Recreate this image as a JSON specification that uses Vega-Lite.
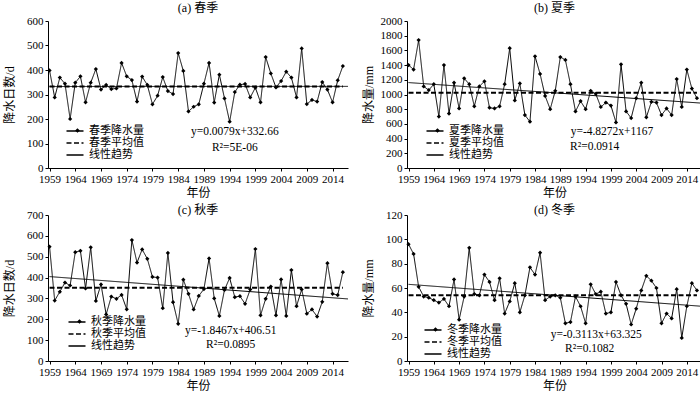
{
  "$schema": "https://vega.github.io/schema/vega-lite/v6.json",
  "padding": {"left": 3, "top": 2, "right": 2, "bottom": 0},
  "columns": 2,
  "spacing": {"row": 6, "column": 12},
  "resolve": {"scale": {"strokeDash": "independent", "shape": "independent"}, "legend": {"strokeDash": "independent", "shape": "independent"}},
  "config": {
    "font": "Liberation Serif, Noto Sans CJK SC",
    "view": {"stroke": null},
    "axis": {"domainColor": "black", "tickColor": "black", "labelColor": "black", "titleColor": "black", "grid": false,
      "labelFont": "Liberation Serif", "labelFontSize": 11, "titleFont": "Liberation Serif, Noto Sans CJK SC",
      "titleFontSize": 12, "titleFontWeight": "normal", "tickSize": 3, "labelPadding": 2, "domainWidth": 1, "tickWidth": 1},
    "axisX": {"labelFlush": false, "labelOverlap": false, "titlePadding": 3, "format": "d"},
    "axisY": {"minExtent": 26, "maxExtent": 26, "titlePadding": 6, "format": "d", "labelOverlap": false},
    "title": {"font": "Liberation Serif, Noto Sans CJK SC", "fontSize": 12, "fontWeight": "normal", "color": "black", "anchor": "middle"},
    "legend": {"labelFont": "Liberation Serif, Noto Sans CJK SC", "labelFontSize": 11, "labelColor": "black", "padding": 0, "rowPadding": 1, "symbolSize": 100, "labelOffset": 8, "symbolType": "M-1.7,0H1.7", "symbolStrokeWidth": 1.3, "symbolStrokeColor": "black"},
    "text": {"font": "Liberation Serif", "fontSize": 11.5, "color": "black"}
  },
  "concat": [
    {
      "title": {"text": "(a) 春季", "offset": 0},
      "width": 300, "height": 147,
      "data": {"values": [
        {"year":1959,"value":398,"series":"春季降水量"},{"year":1960,"value":288,"series":"春季降水量"},{"year":1961,"value":369,"series":"春季降水量"},{"year":1962,"value":344,"series":"春季降水量"},{"year":1963,"value":200,"series":"春季降水量"},{"year":1964,"value":348,"series":"春季降水量"},{"year":1965,"value":374,"series":"春季降水量"},{"year":1966,"value":268,"series":"春季降水量"},{"year":1967,"value":348,"series":"春季降水量"},{"year":1968,"value":404,"series":"春季降水量"},
        {"year":1969,"value":320,"series":"春季降水量"},{"year":1970,"value":339,"series":"春季降水量"},{"year":1971,"value":322,"series":"春季降水量"},{"year":1972,"value":325,"series":"春季降水量"},{"year":1973,"value":429,"series":"春季降水量"},{"year":1974,"value":374,"series":"春季降水量"},{"year":1975,"value":359,"series":"春季降水量"},{"year":1976,"value":271,"series":"春季降水量"},{"year":1977,"value":373,"series":"春季降水量"},{"year":1978,"value":339,"series":"春季降水量"},
        {"year":1979,"value":260,"series":"春季降水量"},{"year":1980,"value":295,"series":"春季降水量"},{"year":1981,"value":371,"series":"春季降水量"},{"year":1982,"value":314,"series":"春季降水量"},{"year":1983,"value":302,"series":"春季降水量"},{"year":1984,"value":469,"series":"春季降水量"},{"year":1985,"value":396,"series":"春季降水量"},{"year":1986,"value":231,"series":"春季降水量"},{"year":1987,"value":250,"series":"春季降水量"},{"year":1988,"value":260,"series":"春季降水量"},
        {"year":1989,"value":344,"series":"春季降水量"},{"year":1990,"value":429,"series":"春季降水量"},{"year":1991,"value":267,"series":"春季降水量"},{"year":1992,"value":381,"series":"春季降水量"},{"year":1993,"value":284,"series":"春季降水量"},{"year":1994,"value":189,"series":"春季降水量"},{"year":1995,"value":310,"series":"春季降水量"},{"year":1996,"value":340,"series":"春季降水量"},{"year":1997,"value":343,"series":"春季降水量"},{"year":1998,"value":288,"series":"春季降水量"},
        {"year":1999,"value":328,"series":"春季降水量"},{"year":2000,"value":268,"series":"春季降水量"},{"year":2001,"value":453,"series":"春季降水量"},{"year":2002,"value":386,"series":"春季降水量"},{"year":2003,"value":329,"series":"春季降水量"},{"year":2004,"value":355,"series":"春季降水量"},{"year":2005,"value":393,"series":"春季降水量"},{"year":2006,"value":369,"series":"春季降水量"},{"year":2007,"value":288,"series":"春季降水量"},{"year":2008,"value":488,"series":"春季降水量"},
        {"year":2009,"value":261,"series":"春季降水量"},{"year":2010,"value":278,"series":"春季降水量"},{"year":2011,"value":271,"series":"春季降水量"},{"year":2012,"value":351,"series":"春季降水量"},{"year":2013,"value":320,"series":"春季降水量"},{"year":2014,"value":268,"series":"春季降水量"},{"year":2015,"value":358,"series":"春季降水量"},{"year":2016,"value":416,"series":"春季降水量"},
        {"year":1959,"value":332.7,"series":"春季平均值"},{"year":2016,"value":332.7,"series":"春季平均值"},
        {"year":1959,"value":332.67,"series":"线性趋势"},{"year":2017,"value":333.13,"series":"线性趋势"}
      ]},
      "layer": [
        {"mark": {"type": "line", "color": "black"},
         "encoding": {
          "x": {"field": "year", "type": "quantitative", "scale": {"domain": [1958.7, 2017], "nice": false, "zero": false},
            "axis": {"title": "年份", "values": [1959,1964,1969,1974,1979,1984,1989,1994,1999,2004,2009,2014]}},
          "y": {"field": "value", "type": "quantitative", "scale": {"domain": [0, 600], "nice": false},
            "axis": {"title": "降水日数/d", "values": [0,100,200,300,400,500,600]}},
          "strokeDash": {"field": "series", "type": "nominal", "scale": {"domain": ["春季降水量","春季平均值","线性趋势"], "range": [[1,0],[5,2.5],[1,0]]},
            "legend": {"title": null, "orient": "none", "legendX": 21, "legendY": 104}},
          "strokeWidth": {"condition": {"test": "datum.series === '春季平均值'", "value": 2}, "value": 1}
         }},
        {"transform": [{"filter": {"field": "series", "equal": "春季降水量"}}],
         "mark": {"type": "point", "filled": true, "size": 18, "fill": "black", "strokeWidth": 0, "opacity": 1},
         "encoding": {
           "x": {"field": "year", "type": "quantitative", "scale": {"domain": [1958.7, 2017], "nice": false, "zero": false},
             "axis": {"title": "年份", "values": [1959,1964,1969,1974,1979,1984,1989,1994,1999,2004,2009,2014]}},
           "y": {"field": "value", "type": "quantitative", "scale": {"domain": [0, 600], "nice": false},
             "axis": {"title": "降水日数/d", "values": [0,100,200,300,400,500,600]}},
           "shape": {"field": "series", "type": "nominal", "scale": {"domain": ["春季降水量"], "range": ["diamond"]},
           "legend": {"title": null, "orient": "none", "legendX": 24, "legendY": 104, "labelExpr": "''", "symbolSize": 22, "symbolType": "diamond", "symbolFillColor": "black", "symbolStrokeWidth": 0}}}},
        {"data": {"values": [{"t": "y=0.0079x+332.66"}]},
         "mark": {"type": "text", "align": "center", "baseline": "middle", "fill": "black"},
         "encoding": {
           "x": {"datum": 1995, "type": "quantitative", "scale": {"domain": [1958.7, 2017], "nice": false, "zero": false},
             "axis": {"title": "年份", "values": [1959,1964,1969,1974,1979,1984,1989,1994,1999,2004,2009,2014]}},
           "y": {"datum": 148, "type": "quantitative", "scale": {"domain": [0, 600], "nice": false},
             "axis": {"title": "降水日数/d", "values": [0,100,200,300,400,500,600]}},
           "text": {"field": "t", "type": "nominal"}}},
        {"data": {"values": [{"t": "R²=5E-06"}]},
         "mark": {"type": "text", "align": "center", "baseline": "middle", "fill": "black"},
         "encoding": {
           "x": {"datum": 1995, "type": "quantitative", "scale": {"domain": [1958.7, 2017], "nice": false, "zero": false},
             "axis": {"title": "年份", "values": [1959,1964,1969,1974,1979,1984,1989,1994,1999,2004,2009,2014]}},
           "y": {"datum": 83, "type": "quantitative", "scale": {"domain": [0, 600], "nice": false},
             "axis": {"title": "降水日数/d", "values": [0,100,200,300,400,500,600]}},
           "text": {"field": "t", "type": "nominal"}}}
      ]
    },
    {
      "title": {"text": "(b) 夏季", "offset": 0},
      "width": 295, "height": 147,
      "data": {"values": [
        {"year":1959,"value":1400,"series":"夏季降水量"},{"year":1960,"value":1340,"series":"夏季降水量"},{"year":1961,"value":1740,"series":"夏季降水量"},{"year":1962,"value":1110,"series":"夏季降水量"},{"year":1963,"value":1060,"series":"夏季降水量"},{"year":1964,"value":1140,"series":"夏季降水量"},{"year":1965,"value":700,"series":"夏季降水量"},{"year":1966,"value":1400,"series":"夏季降水量"},{"year":1967,"value":740,"series":"夏季降水量"},{"year":1968,"value":1160,"series":"夏季降水量"},
        {"year":1969,"value":810,"series":"夏季降水量"},{"year":1970,"value":1220,"series":"夏季降水量"},{"year":1971,"value":1140,"series":"夏季降水量"},{"year":1972,"value":840,"series":"夏季降水量"},{"year":1973,"value":1110,"series":"夏季降水量"},{"year":1974,"value":1180,"series":"夏季降水量"},{"year":1975,"value":820,"series":"夏季降水量"},{"year":1976,"value":810,"series":"夏季降水量"},{"year":1977,"value":840,"series":"夏季降水量"},{"year":1978,"value":1140,"series":"夏季降水量"},
        {"year":1979,"value":1630,"series":"夏季降水量"},{"year":1980,"value":920,"series":"夏季降水量"},{"year":1981,"value":1150,"series":"夏季降水量"},{"year":1982,"value":720,"series":"夏季降水量"},{"year":1983,"value":630,"series":"夏季降水量"},{"year":1984,"value":1520,"series":"夏季降水量"},{"year":1985,"value":1280,"series":"夏季降水量"},{"year":1986,"value":980,"series":"夏季降水量"},{"year":1987,"value":800,"series":"夏季降水量"},{"year":1988,"value":1050,"series":"夏季降水量"},
        {"year":1989,"value":1510,"series":"夏季降水量"},{"year":1990,"value":1470,"series":"夏季降水量"},{"year":1991,"value":1140,"series":"夏季降水量"},{"year":1992,"value":770,"series":"夏季降水量"},{"year":1993,"value":910,"series":"夏季降水量"},{"year":1994,"value":800,"series":"夏季降水量"},{"year":1995,"value":1050,"series":"夏季降水量"},{"year":1996,"value":1010,"series":"夏季降水量"},{"year":1997,"value":830,"series":"夏季降水量"},{"year":1998,"value":890,"series":"夏季降水量"},
        {"year":1999,"value":850,"series":"夏季降水量"},{"year":2000,"value":620,"series":"夏季降水量"},{"year":2001,"value":1410,"series":"夏季降水量"},{"year":2002,"value":770,"series":"夏季降水量"},{"year":2003,"value":680,"series":"夏季降水量"},{"year":2004,"value":950,"series":"夏季降水量"},{"year":2005,"value":1160,"series":"夏季降水量"},{"year":2006,"value":690,"series":"夏季降水量"},{"year":2007,"value":900,"series":"夏季降水量"},{"year":2008,"value":890,"series":"夏季降水量"},
        {"year":2009,"value":720,"series":"夏季降水量"},{"year":2010,"value":810,"series":"夏季降水量"},{"year":2011,"value":720,"series":"夏季降水量"},{"year":2012,"value":1210,"series":"夏季降水量"},{"year":2013,"value":830,"series":"夏季降水量"},{"year":2014,"value":1340,"series":"夏季降水量"},{"year":2015,"value":1080,"series":"夏季降水量"},{"year":2016,"value":950,"series":"夏季降水量"},
        {"year":1959,"value":1025,"series":"夏季平均值"},{"year":2016,"value":1025,"series":"夏季平均值"},
        {"year":1959,"value":1162.2,"series":"线性趋势"},{"year":2017,"value":882.2,"series":"线性趋势"}
      ]},
      "layer": [
        {"mark": {"type": "line", "color": "black"},
         "encoding": {
          "x": {"field": "year", "type": "quantitative", "scale": {"domain": [1958.7, 2017], "nice": false, "zero": false},
            "axis": {"title": "年份", "values": [1959,1964,1969,1974,1979,1984,1989,1994,1999,2004,2009,2014]}},
          "y": {"field": "value", "type": "quantitative", "scale": {"domain": [0, 2000], "nice": false},
            "axis": {"title": "降水量/mm", "values": [0,200,400,600,800,1000,1200,1400,1600,1800,2000]}},
          "strokeDash": {"field": "series", "type": "nominal", "scale": {"domain": ["夏季降水量","夏季平均值","线性趋势"], "range": [[1,0],[5,2.5],[1,0]]},
            "legend": {"title": null, "orient": "none", "legendX": 22, "legendY": 104}},
          "strokeWidth": {"condition": {"test": "datum.series === '夏季平均值'", "value": 2}, "value": 1}
         }},
        {"transform": [{"filter": {"field": "series", "equal": "夏季降水量"}}],
         "mark": {"type": "point", "filled": true, "size": 18, "fill": "black", "strokeWidth": 0, "opacity": 1},
         "encoding": {
           "x": {"field": "year", "type": "quantitative", "scale": {"domain": [1958.7, 2017], "nice": false, "zero": false},
             "axis": {"title": "年份", "values": [1959,1964,1969,1974,1979,1984,1989,1994,1999,2004,2009,2014]}},
           "y": {"field": "value", "type": "quantitative", "scale": {"domain": [0, 2000], "nice": false},
             "axis": {"title": "降水量/mm", "values": [0,200,400,600,800,1000,1200,1400,1600,1800,2000]}},
           "shape": {"field": "series", "type": "nominal", "scale": {"domain": ["夏季降水量"], "range": ["diamond"]},
           "legend": {"title": null, "orient": "none", "legendX": 25, "legendY": 104, "labelExpr": "''", "symbolSize": 22, "symbolType": "diamond", "symbolFillColor": "black", "symbolStrokeWidth": 0}}}},
        {"data": {"values": [{"t": "y=-4.8272x+1167"}]},
         "mark": {"type": "text", "align": "center", "baseline": "middle", "fill": "black"},
         "encoding": {
           "x": {"datum": 1999.2, "type": "quantitative", "scale": {"domain": [1958.7, 2017], "nice": false, "zero": false},
             "axis": {"title": "年份", "values": [1959,1964,1969,1974,1979,1984,1989,1994,1999,2004,2009,2014]}},
           "y": {"datum": 490, "type": "quantitative", "scale": {"domain": [0, 2000], "nice": false},
             "axis": {"title": "降水量/mm", "values": [0,200,400,600,800,1000,1200,1400,1600,1800,2000]}},
           "text": {"field": "t", "type": "nominal"}}},
        {"data": {"values": [{"t": "R²=0.0914"}]},
         "mark": {"type": "text", "align": "center", "baseline": "middle", "fill": "black"},
         "encoding": {
           "x": {"datum": 1995.8, "type": "quantitative", "scale": {"domain": [1958.7, 2017], "nice": false, "zero": false},
             "axis": {"title": "年份", "values": [1959,1964,1969,1974,1979,1984,1989,1994,1999,2004,2009,2014]}},
           "y": {"datum": 286, "type": "quantitative", "scale": {"domain": [0, 2000], "nice": false},
             "axis": {"title": "降水量/mm", "values": [0,200,400,600,800,1000,1200,1400,1600,1800,2000]}},
           "text": {"field": "t", "type": "nominal"}}}
      ]
    },
    {
      "title": {"text": "(c) 秋季", "offset": -8},
      "width": 300, "height": 146,
      "data": {"values": [
        {"year":1959,"value":548,"series":"秋季降水量"},{"year":1960,"value":290,"series":"秋季降水量"},{"year":1961,"value":332,"series":"秋季降水量"},{"year":1962,"value":376,"series":"秋季降水量"},{"year":1963,"value":362,"series":"秋季降水量"},{"year":1964,"value":522,"series":"秋季降水量"},{"year":1965,"value":528,"series":"秋季降水量"},{"year":1966,"value":348,"series":"秋季降水量"},{"year":1967,"value":545,"series":"秋季降水量"},{"year":1968,"value":288,"series":"秋季降水量"},
        {"year":1969,"value":367,"series":"秋季降水量"},{"year":1970,"value":223,"series":"秋季降水量"},{"year":1971,"value":309,"series":"秋季降水量"},{"year":1972,"value":298,"series":"秋季降水量"},{"year":1973,"value":317,"series":"秋季降水量"},{"year":1974,"value":248,"series":"秋季降水量"},{"year":1975,"value":580,"series":"秋季降水量"},{"year":1976,"value":472,"series":"秋季降水量"},{"year":1977,"value":535,"series":"秋季降水量"},{"year":1978,"value":490,"series":"秋季降水量"},
        {"year":1979,"value":403,"series":"秋季降水量"},{"year":1980,"value":400,"series":"秋季降水量"},{"year":1981,"value":253,"series":"秋季降水量"},{"year":1982,"value":518,"series":"秋季降水量"},{"year":1983,"value":282,"series":"秋季降水量"},{"year":1984,"value":178,"series":"秋季降水量"},{"year":1985,"value":390,"series":"秋季降水量"},{"year":1986,"value":322,"series":"秋季降水量"},{"year":1987,"value":247,"series":"秋季降水量"},{"year":1988,"value":312,"series":"秋季降水量"},
        {"year":1989,"value":345,"series":"秋季降水量"},{"year":1990,"value":492,"series":"秋季降水量"},{"year":1991,"value":300,"series":"秋季降水量"},{"year":1992,"value":216,"series":"秋季降水量"},{"year":1993,"value":341,"series":"秋季降水量"},{"year":1994,"value":398,"series":"秋季降水量"},{"year":1995,"value":306,"series":"秋季降水量"},{"year":1996,"value":311,"series":"秋季降水量"},{"year":1997,"value":274,"series":"秋季降水量"},{"year":1998,"value":343,"series":"秋季降水量"},
        {"year":1999,"value":537,"series":"秋季降水量"},{"year":2000,"value":219,"series":"秋季降水量"},{"year":2001,"value":298,"series":"秋季降水量"},{"year":2002,"value":357,"series":"秋季降水量"},{"year":2003,"value":219,"series":"秋季降水量"},{"year":2004,"value":391,"series":"秋季降水量"},{"year":2005,"value":216,"series":"秋季降水量"},{"year":2006,"value":436,"series":"秋季降水量"},{"year":2007,"value":263,"series":"秋季降水量"},{"year":2008,"value":343,"series":"秋季降水量"},
        {"year":2009,"value":227,"series":"秋季降水量"},{"year":2010,"value":247,"series":"秋季降水量"},{"year":2011,"value":213,"series":"秋季降水量"},{"year":2012,"value":284,"series":"秋季降水量"},{"year":2013,"value":469,"series":"秋季降水量"},{"year":2014,"value":322,"series":"秋季降水量"},{"year":2015,"value":316,"series":"秋季降水量"},{"year":2016,"value":426,"series":"秋季降水量"},
        {"year":1959,"value":351.6,"series":"秋季平均值"},{"year":2016,"value":351.6,"series":"秋季平均值"},
        {"year":1959,"value":404.66,"series":"线性趋势"},{"year":2017,"value":297.56,"series":"线性趋势"}
      ]},
      "layer": [
        {"mark": {"type": "line", "color": "black"},
         "encoding": {
          "x": {"field": "year", "type": "quantitative", "scale": {"domain": [1958.7, 2017], "nice": false, "zero": false},
            "axis": {"title": "年份", "values": [1959,1964,1969,1974,1979,1984,1989,1994,1999,2004,2009,2014]}},
          "y": {"field": "value", "type": "quantitative", "scale": {"domain": [0, 700], "nice": false},
            "axis": {"title": "降水日数/d", "values": [0,100,200,300,400,500,600,700]}},
          "strokeDash": {"field": "series", "type": "nominal", "scale": {"domain": ["秋季降水量","秋季平均值","线性趋势"], "range": [[1,0],[5,2.5],[1,0]]},
            "legend": {"title": null, "orient": "none", "legendX": 23, "legendY": 101}},
          "strokeWidth": {"condition": {"test": "datum.series === '秋季平均值'", "value": 2}, "value": 1}
         }},
        {"transform": [{"filter": {"field": "series", "equal": "秋季降水量"}}],
         "mark": {"type": "point", "filled": true, "size": 18, "fill": "black", "strokeWidth": 0, "opacity": 1},
         "encoding": {
           "x": {"field": "year", "type": "quantitative", "scale": {"domain": [1958.7, 2017], "nice": false, "zero": false},
             "axis": {"title": "年份", "values": [1959,1964,1969,1974,1979,1984,1989,1994,1999,2004,2009,2014]}},
           "y": {"field": "value", "type": "quantitative", "scale": {"domain": [0, 700], "nice": false},
             "axis": {"title": "降水日数/d", "values": [0,100,200,300,400,500,600,700]}},
           "shape": {"field": "series", "type": "nominal", "scale": {"domain": ["秋季降水量"], "range": ["diamond"]},
           "legend": {"title": null, "orient": "none", "legendX": 26, "legendY": 101, "labelExpr": "''", "symbolSize": 22, "symbolType": "diamond", "symbolFillColor": "black", "symbolStrokeWidth": 0}}}},
        {"data": {"values": [{"t": "y=-1.8467x+406.51"}]},
         "mark": {"type": "text", "align": "center", "baseline": "middle", "fill": "black"},
         "encoding": {
           "x": {"datum": 1994.2, "type": "quantitative", "scale": {"domain": [1958.7, 2017], "nice": false, "zero": false},
             "axis": {"title": "年份", "values": [1959,1964,1969,1974,1979,1984,1989,1994,1999,2004,2009,2014]}},
           "y": {"datum": 144, "type": "quantitative", "scale": {"domain": [0, 700], "nice": false},
             "axis": {"title": "降水日数/d", "values": [0,100,200,300,400,500,600,700]}},
           "text": {"field": "t", "type": "nominal"}}},
        {"data": {"values": [{"t": "R²=0.0895"}]},
         "mark": {"type": "text", "align": "center", "baseline": "middle", "fill": "black"},
         "encoding": {
           "x": {"datum": 1994.2, "type": "quantitative", "scale": {"domain": [1958.7, 2017], "nice": false, "zero": false},
             "axis": {"title": "年份", "values": [1959,1964,1969,1974,1979,1984,1989,1994,1999,2004,2009,2014]}},
           "y": {"datum": 79, "type": "quantitative", "scale": {"domain": [0, 700], "nice": false},
             "axis": {"title": "降水日数/d", "values": [0,100,200,300,400,500,600,700]}},
           "text": {"field": "t", "type": "nominal"}}}
      ]
    },
    {
      "title": {"text": "(d) 冬季", "offset": -8},
      "width": 295, "height": 146,
      "data": {"values": [
        {"year":1959,"value":96,"series":"冬季降水量"},{"year":1960,"value":88,"series":"冬季降水量"},{"year":1961,"value":61,"series":"冬季降水量"},{"year":1962,"value":53,"series":"冬季降水量"},{"year":1963,"value":52,"series":"冬季降水量"},{"year":1964,"value":50,"series":"冬季降水量"},{"year":1965,"value":48,"series":"冬季降水量"},{"year":1966,"value":51,"series":"冬季降水量"},{"year":1967,"value":45,"series":"冬季降水量"},{"year":1968,"value":67,"series":"冬季降水量"},
        {"year":1969,"value":34,"series":"冬季降水量"},{"year":1970,"value":53,"series":"冬季降水量"},{"year":1971,"value":93,"series":"冬季降水量"},{"year":1972,"value":55,"series":"冬季降水量"},{"year":1973,"value":54,"series":"冬季降水量"},{"year":1974,"value":71,"series":"冬季降水量"},{"year":1975,"value":65,"series":"冬季降水量"},{"year":1976,"value":50,"series":"冬季降水量"},{"year":1977,"value":68,"series":"冬季降水量"},{"year":1978,"value":39,"series":"冬季降水量"},
        {"year":1979,"value":49,"series":"冬季降水量"},{"year":1980,"value":64,"series":"冬季降水量"},{"year":1981,"value":40,"series":"冬季降水量"},{"year":1982,"value":54,"series":"冬季降水量"},{"year":1983,"value":77,"series":"冬季降水量"},{"year":1984,"value":71,"series":"冬季降水量"},{"year":1985,"value":89,"series":"冬季降水量"},{"year":1986,"value":50,"series":"冬季降水量"},{"year":1987,"value":53,"series":"冬季降水量"},{"year":1988,"value":54,"series":"冬季降水量"},
        {"year":1989,"value":52,"series":"冬季降水量"},{"year":1990,"value":31,"series":"冬季降水量"},{"year":1991,"value":32,"series":"冬季降水量"},{"year":1992,"value":53,"series":"冬季降水量"},{"year":1993,"value":45,"series":"冬季降水量"},{"year":1994,"value":31,"series":"冬季降水量"},{"year":1995,"value":63,"series":"冬季降水量"},{"year":1996,"value":55,"series":"冬季降水量"},{"year":1997,"value":57,"series":"冬季降水量"},{"year":1998,"value":39,"series":"冬季降水量"},
        {"year":1999,"value":40,"series":"冬季降水量"},{"year":2000,"value":65,"series":"冬季降水量"},{"year":2001,"value":54,"series":"冬季降水量"},{"year":2002,"value":47,"series":"冬季降水量"},{"year":2003,"value":30,"series":"冬季降水量"},{"year":2004,"value":43,"series":"冬季降水量"},{"year":2005,"value":58,"series":"冬季降水量"},{"year":2006,"value":70,"series":"冬季降水量"},{"year":2007,"value":66,"series":"冬季降水量"},{"year":2008,"value":60,"series":"冬季降水量"},
        {"year":2009,"value":31,"series":"冬季降水量"},{"year":2010,"value":39,"series":"冬季降水量"},{"year":2011,"value":35,"series":"冬季降水量"},{"year":2012,"value":59,"series":"冬季降水量"},{"year":2013,"value":19,"series":"冬季降水量"},{"year":2014,"value":45,"series":"冬季降水量"},{"year":2015,"value":64,"series":"冬季降水量"},{"year":2016,"value":58,"series":"冬季降水量"},
        {"year":1959,"value":54.05,"series":"冬季平均值"},{"year":2016,"value":54.05,"series":"冬季平均值"},
        {"year":1959,"value":63.01,"series":"线性趋势"},{"year":2017,"value":44.96,"series":"线性趋势"}
      ]},
      "layer": [
        {"mark": {"type": "line", "color": "black"},
         "encoding": {
          "x": {"field": "year", "type": "quantitative", "scale": {"domain": [1958.7, 2017], "nice": false, "zero": false},
            "axis": {"title": "年份", "values": [1959,1964,1969,1974,1979,1984,1989,1994,1999,2004,2009,2014]}},
          "y": {"field": "value", "type": "quantitative", "scale": {"domain": [0, 120], "nice": false},
            "axis": {"title": "降水量/mm", "values": [0,20,40,60,80,100,120]}},
          "strokeDash": {"field": "series", "type": "nominal", "scale": {"domain": ["冬季降水量","冬季平均值","线性趋势"], "range": [[1,0],[5,2.5],[1,0]]},
            "legend": {"title": null, "orient": "none", "legendX": 20, "legendY": 109}},
          "strokeWidth": {"condition": {"test": "datum.series === '冬季平均值'", "value": 2}, "value": 1}
         }},
        {"transform": [{"filter": {"field": "series", "equal": "冬季降水量"}}],
         "mark": {"type": "point", "filled": true, "size": 18, "fill": "black", "strokeWidth": 0, "opacity": 1},
         "encoding": {
           "x": {"field": "year", "type": "quantitative", "scale": {"domain": [1958.7, 2017], "nice": false, "zero": false},
             "axis": {"title": "年份", "values": [1959,1964,1969,1974,1979,1984,1989,1994,1999,2004,2009,2014]}},
           "y": {"field": "value", "type": "quantitative", "scale": {"domain": [0, 120], "nice": false},
             "axis": {"title": "降水量/mm", "values": [0,20,40,60,80,100,120]}},
           "shape": {"field": "series", "type": "nominal", "scale": {"domain": ["冬季降水量"], "range": ["diamond"]},
           "legend": {"title": null, "orient": "none", "legendX": 23, "legendY": 109, "labelExpr": "''", "symbolSize": 22, "symbolType": "diamond", "symbolFillColor": "black", "symbolStrokeWidth": 0}}}},
        {"data": {"values": [{"t": "y=-0.3113x+63.325"}]},
         "mark": {"type": "text", "align": "center", "baseline": "middle", "fill": "black"},
         "encoding": {
           "x": {"datum": 1996.1, "type": "quantitative", "scale": {"domain": [1958.7, 2017], "nice": false, "zero": false},
             "axis": {"title": "年份", "values": [1959,1964,1969,1974,1979,1984,1989,1994,1999,2004,2009,2014]}},
           "y": {"datum": 21.1, "type": "quantitative", "scale": {"domain": [0, 120], "nice": false},
             "axis": {"title": "降水量/mm", "values": [0,20,40,60,80,100,120]}},
           "text": {"field": "t", "type": "nominal"}}},
        {"data": {"values": [{"t": "R²=0.1082"}]},
         "mark": {"type": "text", "align": "center", "baseline": "middle", "fill": "black"},
         "encoding": {
           "x": {"datum": 1994.8, "type": "quantitative", "scale": {"domain": [1958.7, 2017], "nice": false, "zero": false},
             "axis": {"title": "年份", "values": [1959,1964,1969,1974,1979,1984,1989,1994,1999,2004,2009,2014]}},
           "y": {"datum": 9.6, "type": "quantitative", "scale": {"domain": [0, 120], "nice": false},
             "axis": {"title": "降水量/mm", "values": [0,20,40,60,80,100,120]}},
           "text": {"field": "t", "type": "nominal"}}}
      ]
    }
  ]
}
